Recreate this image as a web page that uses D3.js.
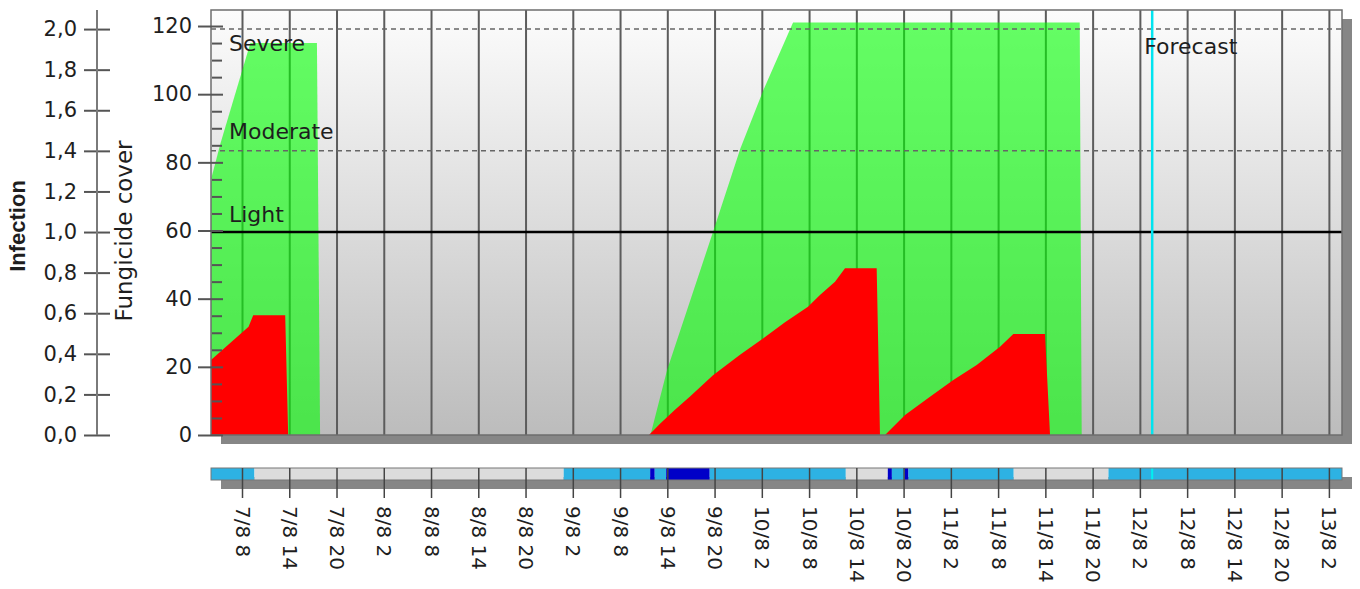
<!DOCTYPE html>
<html>
<head>
<meta charset="utf-8">
<script src="https://cdn.jsdelivr.net/npm/d3@7"></script>
<style>
body{margin:0;background:#fff;}
text{font-family:"DejaVu Sans",sans-serif;fill:#1e1e1e;}
</style>
</head>
<body>
<svg id="chart" width="1360" height="589"></svg>
<script>
// time is in hours from 7/8 00:00
var tickHours = [8,14,20,26,32,38,44,50,56,62,68,74,80,86,92,98,104,110,116,122,128,134,140,146];
var tickLabels = ["7/8 8","7/8 14","7/8 20","8/8 2","8/8 8","8/8 14","8/8 20","9/8 2","9/8 8","9/8 14","9/8 20",
    "10/8 2","10/8 8","10/8 14","10/8 20","11/8 2","11/8 8","11/8 14","11/8 20","12/8 2","12/8 8","12/8 14","12/8 20","13/8 2"];

var infectionTicks = [0,0.2,0.4,0.6,0.8,1.0,1.2,1.4,1.6,1.8,2.0];
var coverTicks = [0,20,40,60,80,100,120];

// fungicide cover (green)
var coverHours1 = [4, 5.2, 9, 17.45, 17.85];
var coverValues1 = [75, 85.5, 115, 115, 0];
var coverHours2 = [59.8, 61.9, 67.8, 71.2, 74.1, 77.9, 114.3, 114.55];
var coverValues2 = [0, 19, 60, 84, 101, 121, 121, 0];

// infection (red)
var infHours1 = [4, 8.77, 9.36, 13.42, 13.8];
var infValues1 = [0.37, 0.533, 0.59, 0.59, 0];
var infHours2 = [59.61, 61.01, 62.91, 64.82, 67.74, 71.17, 74.09, 76.88, 79.8, 81.32, 83.23, 84.5, 88.52, 88.94];
var infValues2 = [0, 0.055, 0.125, 0.19, 0.295, 0.395, 0.476, 0.555, 0.632, 0.69, 0.755, 0.821, 0.821, 0];
var infHours3 = [89.58, 92.12, 95.29, 98.25, 101.22, 104.18, 105.87, 109.89, 110.53];
var infValues3 = [0, 0.0985, 0.189, 0.271, 0.345, 0.435, 0.4975, 0.4975, 0];

// risk thresholds on the infection scale
var thresholdNames = ["Light","Moderate","Severe"];
var thresholdValues = [1.0, 1.4, 2.0];

var forecastHour = 123.5;

// leaf wetness strip
var stripStart = [4, 9.52, 48.78, 59.76, 60.34, 61.79, 67.32, 84.6, 89.93, 90.45, 92.09, 92.56, 105.92, 117.95];
var stripEnd = [9.52, 48.78, 59.76, 60.34, 61.79, 67.32, 84.6, 89.93, 90.45, 92.09, 92.56, 105.92, 117.95, 147.6];
var stripKind = ["wet","dry","wet","rain","wet","rain","wet","dry","rain","wet","rain","wet","dry","wet"];

var stripColor = {wet:"#2db2e3", dry:"#dcdcdc", rain:"#0000c8"};

var pLeft = 211, pRight = 1342, pTop = 10, pBottom = 435;

var svg = d3.select("#chart");

var x = d3.scaleLinear().domain([4, 147.6]).range([pLeft, pRight]);
var yCover = d3.scaleLinear().domain([0, 124.7]).range([pBottom, pTop]);
var yInf = d3.scaleLinear().domain([0, 2.094]).range([pBottom, pTop]);

function toPoints(hours, values){
    return hours.map(function(h,i){ return [h, values[i]]; });
}

var defs = svg.append("defs");
var grad = defs.append("linearGradient")
    .attr("id","bgGrad")
    .attr("x1",0).attr("y1",0).attr("x2",0).attr("y2",1);
grad.append("stop").attr("offset","0%").attr("stop-color","#fcfcfc");
grad.append("stop").attr("offset","100%").attr("stop-color","#bcbcbc");

// shadow + background
svg.append("rect")
    .attr("x",pLeft+10).attr("y",pTop+9)
    .attr("width",pRight-pLeft).attr("height",pBottom-pTop)
    .attr("fill","#868686");
svg.append("rect")
    .attr("x",pLeft).attr("y",pTop)
    .attr("width",pRight-pLeft).attr("height",pBottom-pTop)
    .attr("fill","url(#bgGrad)");

// vertical grid
svg.append("g").attr("class","grid")
    .selectAll("line")
    .data(tickHours)
    .enter()
    .append("line")
    .attr("x1",function(d){ return x(d); })
    .attr("x2",function(d){ return x(d); })
    .attr("y1",pTop).attr("y2",pBottom)
    .attr("stroke","#5c5c5c")
    .attr("stroke-width",2);

var coverArea = d3.area()
    .x(function(d){ return x(d[0]); })
    .y0(yCover(0))
    .y1(function(d){ return yCover(d[1]); });

var infArea = d3.area()
    .x(function(d){ return x(d[0]); })
    .y0(yInf(0))
    .y1(function(d){ return yInf(d[1]); });

svg.append("g").attr("class","cover")
    .selectAll("path")
    .data([toPoints(coverHours1,coverValues1), toPoints(coverHours2,coverValues2)])
    .enter()
    .append("path")
    .attr("d",coverArea)
    .attr("fill","#00ff00")
    .attr("fill-opacity",0.6);

svg.append("g").attr("class","infection")
    .selectAll("path")
    .data([toPoints(infHours1,infValues1), toPoints(infHours2,infValues2), toPoints(infHours3,infValues3)])
    .enter()
    .append("path")
    .attr("d",infArea)
    .attr("fill","#ff0000");

// threshold lines
svg.append("g").attr("class","thresholds")
    .selectAll("line")
    .data(thresholdValues)
    .enter()
    .append("line")
    .attr("x1",pLeft).attr("x2",pRight)
    .attr("y1",function(d){ return yInf(d); })
    .attr("y2",function(d){ return yInf(d); })
    .attr("stroke",function(d,i){ return i==0 ? "#000" : "#666"; })
    .attr("stroke-width",function(d,i){ return i==0 ? 2.5 : 1.5; })
    .attr("stroke-dasharray",function(d,i){ return i==0 ? null : "5,4"; });

// label offsets from their line (px)
var labelOffset = [-10, -12, 22];
svg.append("g").attr("class","thresholdLabels")
    .selectAll("text")
    .data(thresholdNames)
    .enter()
    .append("text")
    .attr("x",pLeft+18)
    .attr("y",function(d,i){ return yInf(thresholdValues[i]) + labelOffset[i]; })
    .attr("font-size","22px")
    .attr("fill","#333")
    .text(function(d){ return d; });

// forecast marker
svg.append("line")
    .attr("x1",x(forecastHour)).attr("x2",x(forecastHour))
    .attr("y1",pTop).attr("y2",pBottom)
    .attr("stroke","#00e4f0")
    .attr("stroke-width",2.5);
svg.append("text")
    .attr("x",x(forecastHour)-8)
    .attr("y",54)
    .attr("font-size","22px")
    .attr("fill","#333")
    .text("Forecast");

// frame
svg.append("rect")
    .attr("x",pLeft).attr("y",pTop)
    .attr("width",pRight-pLeft).attr("height",pBottom-pTop)
    .attr("fill","none")
    .attr("stroke","#6e6e6e")
    .attr("stroke-width",1.5);

// fungicide cover axis
var fmt = d3.format(".1f");
var coverAxis = svg.append("g")
    .attr("transform","translate(223,0)")
    .call(d3.axisLeft(yCover).tickValues(coverTicks).tickSize(25).tickPadding(6));
var minorTicks = d3.range(0,125,5).filter(function(d){ return d%20 != 0; });
var minorAxis = svg.append("g")
    .attr("transform","translate(222,0)")
    .call(d3.axisLeft(yCover).tickValues(minorTicks).tickSize(10).tickFormat(""));

// infection axis
var infAxis = svg.append("g")
    .attr("transform","translate(110,0)")
    .call(d3.axisLeft(yInf).tickValues(infectionTicks).tickSize(26).tickPadding(7)
        .tickFormat(function(d){ return fmt(d).replace(".",","); }));
svg.append("line")
    .attr("x1",97).attr("x2",97)
    .attr("y1",pTop).attr("y2",pBottom)
    .attr("stroke","#7a7a7a")
    .attr("stroke-width",2);

[coverAxis, minorAxis, infAxis].forEach(function(g){
    g.select(".domain").remove();
    g.selectAll(".tick line").attr("stroke","#555").attr("stroke-width",2);
    g.selectAll(".tick text")
        .attr("font-size","21px")
        .attr("font-family","DejaVu Sans")
        .attr("fill","#1e1e1e");
});

// axis titles
svg.append("text")
    .attr("transform","translate(17,226) rotate(-90)")
    .attr("text-anchor","middle")
    .attr("dominant-baseline","central")
    .style("font-family","'Liberation Sans',Arial,sans-serif")
    .attr("font-weight","bold")
    .attr("font-size","22px")
    .text("Infection");
svg.append("text")
    .attr("transform","translate(124,231) rotate(-90)")
    .attr("text-anchor","middle")
    .attr("dominant-baseline","central")
    .attr("font-size","23px")
    .text("Fungicide cover");

// wetness strip
var sTop = 468, sH = 12;
svg.append("rect")
    .attr("x",pLeft+10).attr("y",sTop+9)
    .attr("width",pRight-pLeft).attr("height",sH)
    .attr("fill","#868686");
svg.append("g").attr("class","strip")
    .selectAll("rect")
    .data(stripKind)
    .enter()
    .append("rect")
    .attr("x",function(d,i){ return x(stripStart[i]); })
    .attr("width",function(d,i){ return x(stripEnd[i]) - x(stripStart[i]); })
    .attr("y",sTop).attr("height",sH)
    .attr("fill",function(d){ return stripColor[d]; });
svg.append("line")
    .attr("x1",x(forecastHour)).attr("x2",x(forecastHour))
    .attr("y1",sTop).attr("y2",sTop+sH)
    .attr("stroke","#00f0f0")
    .attr("stroke-width",2);
svg.append("rect")
    .attr("x",pLeft).attr("y",sTop)
    .attr("width",pRight-pLeft).attr("height",sH)
    .attr("fill","none")
    .attr("stroke","#777")
    .attr("stroke-width",1);

// time ticks + labels
var xt = svg.append("g").attr("class","xticks");
xt.selectAll("line")
    .data(tickHours)
    .enter()
    .append("line")
    .attr("x1",function(d){ return x(d); })
    .attr("x2",function(d){ return x(d); })
    .attr("y1",sTop).attr("y2",498)
    .attr("stroke","#444")
    .attr("stroke-width",1.5);
xt.selectAll("text")
    .data(tickHours)
    .enter()
    .append("text")
    .attr("transform",function(d){ return "translate("+x(d)+",506) rotate(90)"; })
    .attr("dominant-baseline","central")
    .attr("font-size","20px")
    .text(function(d,i){ return tickLabels[i]; });
</script>
</body>
</html>
